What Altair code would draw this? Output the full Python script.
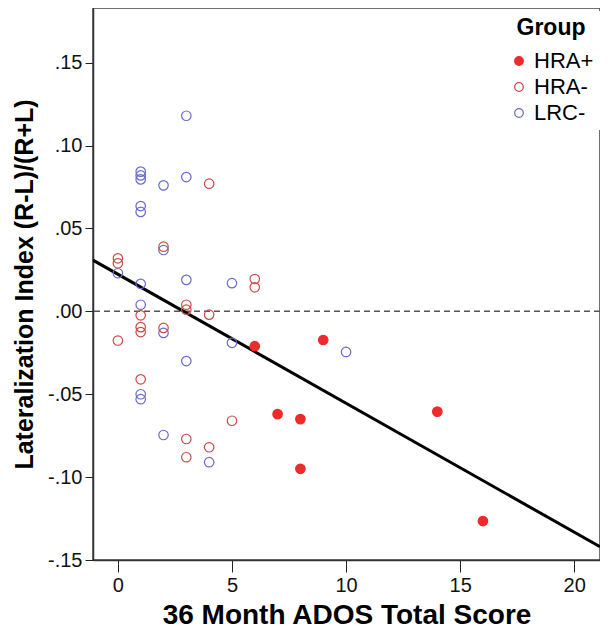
import altair as alt
import pandas as pd

# ---- data ----
hra_pos_x = [6, 7, 8, 8, 9, 14, 16]
hra_pos_y = [-0.021, -0.062, -0.065, -0.095, -0.0173, -0.0605, -0.1265]

hra_neg_x = [0, 0, 0, 1, 1, 1, 1, 2, 2, 3, 3, 3, 3, 4, 4, 4, 5, 6, 6]
hra_neg_y = [0.032, 0.029, -0.0176, -0.0024, -0.0095, -0.0125, -0.041, 0.039, -0.010,
             0.004, 0.001, -0.077, -0.088, 0.077, -0.002, -0.082, -0.066, 0.0195, 0.0145]

lrc_neg_x = [0, 1, 1, 1, 1, 1, 1, 1, 1, 1, 2, 2, 2, 2, 3, 3, 3, 3, 4, 5, 5, 10]
lrc_neg_y = [0.023, 0.0843, 0.082, 0.0796, 0.0635, 0.060, 0.0166, 0.004, -0.050, -0.053,
             0.076, 0.037, -0.013, -0.0746, 0.118, 0.081, 0.019, -0.030, -0.091, 0.017,
             -0.019, -0.0245]

groups = ["HRA+", "HRA-", "LRC-"]
group_stroke = ["#EE2A2A", "#CC4A4A", "#6A6ACC"]
group_fill = ["#EE2A2A", "transparent", "transparent"]

fit_intercept = 0.0224
fit_slope = -0.00778

x_domain = [-1.09, 21.13]
y_domain = [-0.15, 0.183]
x_ticks = [0, 5, 10, 15, 20]
y_ticks = [-0.15, -0.10, -0.05, 0.0, 0.05, 0.10, 0.15]

FONT = "Liberation Sans"

rows = []
for xs, ys, g in [(hra_pos_x, hra_pos_y, "HRA+"), (hra_neg_x, hra_neg_y, "HRA-"),
                  (lrc_neg_x, lrc_neg_y, "LRC-")]:
    for a, b in zip(xs, ys):
        rows.append({"score": a, "li": b, "group": g})
df = pd.DataFrame(rows)
df["order"] = df["group"].map({"LRC-": 0, "HRA-": 1, "HRA+": 2})

line_df = pd.DataFrame({"score": x_domain,
                        "li": [fit_intercept + fit_slope * v for v in x_domain]})
zero_df = pd.DataFrame({"li": [0.0]})

x_scale = alt.Scale(domain=x_domain, nice=False, zero=False)
y_scale = alt.Scale(domain=y_domain, nice=False, zero=False)

x_axis = alt.Axis(values=x_ticks, title="36 Month ADOS Total Score", grid=False,
                  tickSize=12, tickColor="#222", domainColor="#333", domainWidth=1.5,
                  labelFontSize=20, labelFont=FONT, labelColor="#111", labelPadding=3,
                  titleFontSize=28, titleFont=FONT, titleFontWeight="bold",
                  titleColor="#000", titlePadding=6)
y_axis = alt.Axis(values=y_ticks, title="Lateralization Index (R-L)/(R+L)", grid=False,
                  tickSize=8, tickColor="#222", domainColor="#333", domainWidth=1.5,
                  labelFontSize=20, labelFont=FONT, labelColor="#111", labelPadding=3,
                  labelExpr="(datum.value < 0 ? '-' : '') + replace(format(abs(datum.value), '.2f'), '0.', '.')",
                  titleFontSize=25, titleFont=FONT, titleFontWeight="bold",
                  titleColor="#000", titlePadding=10)

points = alt.Chart(df).mark_point(shape="circle", size=90, strokeWidth=1.2, opacity=1).encode(
    x=alt.X("score:Q", scale=x_scale, axis=x_axis),
    y=alt.Y("li:Q", scale=y_scale, axis=y_axis),
    stroke=alt.Stroke("group:N", scale=alt.Scale(domain=groups, range=group_stroke),
                      legend=alt.Legend(title="Group")),
    fill=alt.Fill("group:N", scale=alt.Scale(domain=groups, range=group_fill),
                  legend=alt.Legend(title="Group")),
    order="order:Q",
)

zero_line = alt.Chart(zero_df).mark_rule(color="#555", strokeWidth=1.5,
                                         strokeDash=[6, 4]).encode(
    y=alt.Y("li:Q", scale=y_scale)
)

fit_line = alt.Chart(line_df).mark_line(color="#000", strokeWidth=3, clip=True).encode(
    x=alt.X("score:Q", scale=x_scale),
    y=alt.Y("li:Q", scale=y_scale),
)

chart = alt.layer(zero_line, fit_line, points).properties(
    width=507, height=552,
    autosize=alt.AutoSizeParams(type="none"),
    padding={"left": 85, "top": 0, "right": 0, "bottom": 76},
).configure_view(
    stroke="#444", strokeWidth=1.5
).configure_legend(
    orient="none", legendX=409, legendY=3,
    titleFontSize=23, titleFont=FONT, titleFontWeight="bold", titleColor="#000",
    titleAnchor="middle",
    labelFontSize=22, labelFont=FONT, labelColor="#000",
    symbolSize=75, symbolStrokeWidth=1.2, rowPadding=4, titlePadding=10,
    fillColor="white", padding=6,
)

chart.save("out.html", embed_options={"renderer": "svg", "actions": False})
